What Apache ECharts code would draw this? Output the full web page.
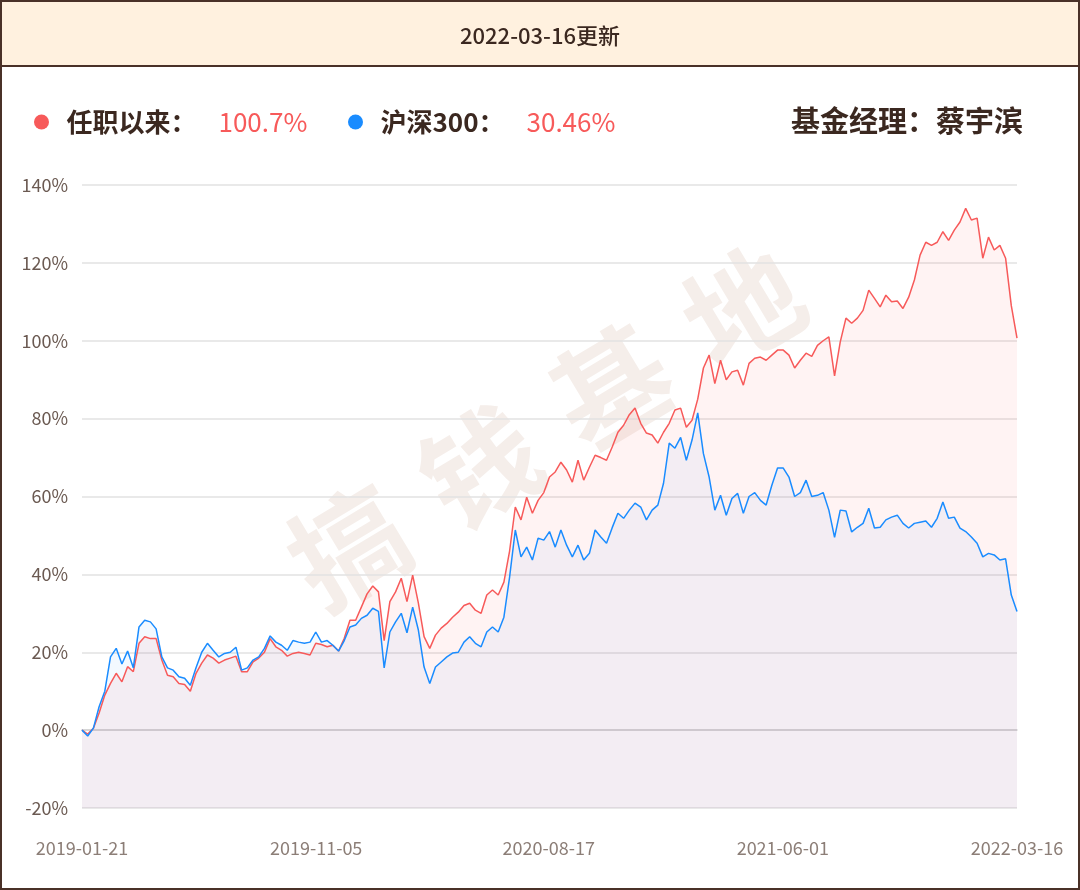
<!DOCTYPE html>
<html>
<head>
<meta charset="utf-8">
<title>任职以来 vs 沪深300</title>
<script src="https://cdn.jsdelivr.net/npm/echarts@6/dist/echarts.min.js"></script>
<style>
  html, body { margin: 0; padding: 0; background: #fff; }
  #main { width: 1080px; height: 890px; }
</style>
</head>
<body>
<div id="main"></div>
<script>
// 数据（从原图读取，按时间等间隔取样）
const startDate = '2019-01-21';
const endDate = '2022-03-16';
const xTickLabels = ['2019-01-21', '2019-11-05', '2020-08-17', '2021-06-01', '2022-03-16'];
const seriesNames = ['任职以来', '沪深300'];
const legendValues = ['100.7%', '30.46%'];
const updateText = '2022-03-16更新';
const managerText = '基金经理：蔡宇滨';
const watermarkChars = ['搞', '钱', '基', '地'];

// 任职以来 收益率 %
const fundReturn = [
  0, -1, 0.5, 4.4, 9, 12, 14.6, 12.4, 16.3, 15,
  22.3, 24, 23.5, 23.5, 18, 14.1, 13.7, 12, 11.7, 10,
  14.6, 17.2, 19.3, 18.5, 17.2, 18, 18.5, 19, 15, 15,
  17.5, 18.5, 20, 23.5, 21.4, 20.5, 19, 19.7, 20, 19.7,
  19.3, 22.3, 22, 21.4, 21.8, 20.3, 23.6, 28.2, 28.2, 31.6,
  35, 37, 35.5, 23, 33, 35.5, 39, 33, 39.8, 32.6,
  24, 21, 24.4, 26.2, 27.4, 29, 30.3, 32, 32.6, 30.8,
  30, 34.7, 36, 34.7, 38, 46, 57.3, 54, 59.8, 55.7,
  59, 61, 65, 66.3, 68.8, 66.8, 63.7, 69.3, 64.2, 67.5,
  70.6, 70, 69.3, 72.7, 76.5, 78.3, 81, 82.7, 78.8, 76.3,
  75.8, 73.7, 76.5, 78.8, 82.2, 82.7, 77.8, 79.6, 85, 93,
  96.3, 89, 95, 90, 92, 92.4, 88.6, 94.2, 95.5, 95.8,
  95, 96.3, 97.6, 97.6, 96.3, 93, 95, 96.8, 96, 98.8,
  100, 101, 91, 99.7, 105.8, 104.5, 105.8, 107.8, 113, 110.9,
  108.7, 111.7, 110, 110.2, 108.3, 111.2, 115.6, 122, 125.3, 124.5,
  125.3, 128, 125.8, 128.4, 130.5, 134, 131, 131.5, 121.2, 126.6,
  123.3, 124.5, 121.2, 109, 100.7
];

// 沪深300 收益率 %
const indexReturn = [
  0, -1.5, 0.5, 6, 10, 18.8, 21, 17, 20.3, 16,
  26.5, 28.2, 27.8, 26, 18.8, 16, 15.4, 13.7, 13.3, 11.5,
  16, 20, 22.3, 20.5, 18.8, 19.7, 20, 21.3, 15.4, 16,
  18, 18.8, 21, 24.2, 22.6, 21.8, 20.5, 23, 22.6, 22.3,
  22.6, 25.2, 22.6, 23, 21.8, 20.3, 23, 26.5, 27, 28.7,
  29.5, 31.3, 30.5, 16, 25.2, 27.8, 30, 25, 31.6, 25.7,
  16.2, 12, 16.2, 17.5, 18.8, 19.8, 20, 22.6, 24, 22.3,
  21.4, 25.2, 26.5, 25.2, 29, 39.3, 51.4, 44.5, 47, 43.7,
  49.3, 48.8, 51, 47, 51.4, 47.5, 44.5, 47.5, 43.7, 45.4,
  51.4, 49.6, 48, 52, 55.7, 54.4, 56.5, 58.3, 57.3, 54,
  56.5, 57.8, 63.4, 73.7, 72.4, 75.2, 69.3, 74.5, 81.5, 71,
  65, 56.5, 60.3, 55.2, 59.5, 60.8, 55.7, 60, 61, 59,
  57.8, 62.9, 67.3, 67.3, 65, 60, 61, 64.2, 60, 60.3,
  61, 56.5, 49.5, 56.5, 56.3, 50.9, 52.1, 53.1, 57, 51.9,
  52.1, 54, 54.7, 55.2, 53.1, 51.9, 53.1, 53.4, 53.7, 52.1,
  54.4, 58.6, 54.4, 54.7, 51.9, 51, 49.6, 48, 44.5, 45.4,
  45, 43.7, 44, 34.7, 30.46
];

const DAY = 86400000;
function toTime(s) {
  const p = s.split('-');
  return new Date(+p[0], +p[1] - 1, +p[2]).getTime();
}
function pad(n) { return n < 10 ? '0' + n : '' + n; }

// x 轴用“距起始日的天数”
const t0 = toTime(startDate);
const totalDays = Math.round((toTime(endDate) - t0) / DAY);
function dayOffset(s) { return Math.round((toTime(s) - t0) / DAY); }
function dayLabel(d) {
  const dt = new Date(t0 + d * DAY + DAY / 2);
  return dt.getFullYear() + '-' + pad(dt.getMonth() + 1) + '-' + pad(dt.getDate());
}
function toPairs(values) {
  const step = totalDays / (values.length - 1);
  return values.map((v, i) => [i * step, v]);
}

const red = '#f75a5a';
const blue = '#1a8cff';
const brown = '#3b2820';
const cjk = '"Noto Sans CJK SC", "Noto Sans", sans-serif';

const chart = echarts.init(document.getElementById('main'));

function legendItem(idx, left) {
  return {
    data: [seriesNames[idx]],
    left: left,
    top: 104,
    icon: 'circle',
    itemWidth: 30,
    itemHeight: 15,
    selectedMode: false,
    formatter: function (name) {
      return '{n|' + name + '：}{v|' + legendValues[idx] + '}';
    },
    textStyle: {
      rich: {
        n: { fontFamily: cjk, fontSize: 26, fontWeight: 'bold', color: brown, lineHeight: 32, padding: [0, 0, 0, 5] },
        v: { fontFamily: cjk, fontSize: 26, color: red, lineHeight: 32, padding: [0, 0, 0, 22] }
      }
    }
  };
}

// 水印：四个字沿斜线排列
const wmStart = [349, 547];
const wmEnd = [743, 307];
const wmGraphics = watermarkChars.map((c, i) => ({
  type: 'text',
  z: -1,
  x: wmStart[0] + (wmEnd[0] - wmStart[0]) * i / 3,
  y: wmStart[1] + (wmEnd[1] - wmStart[1]) * i / 3,
  rotation: 31 * Math.PI / 180,
  silent: true,
  style: {
    text: c,
    fontFamily: cjk,
    fontSize: 115,
    fontWeight: 'bold',
    fill: '#f5eeea',
    align: 'center',
    verticalAlign: 'middle'
  }
}));

const option = {
  animation: false,
  backgroundColor: '#fff',
  graphic: [
    {
      type: 'rect',
      z: 10,
      shape: { x: 1, y: 1, width: 1078, height: 65 },
      style: { fill: '#fff1df', stroke: '#4a3128', lineWidth: 2 }
    },
    {
      type: 'rect',
      z: 11,
      shape: { x: 1, y: 1, width: 1078, height: 888 },
      style: { fill: 'none', stroke: '#4a3128', lineWidth: 2 }
    },
    {
      type: 'text',
      z: 12,
      x: 540,
      y: 36,
      style: {
        text: updateText,
        fontFamily: cjk,
        fontSize: 22,
        fontWeight: 500,
        fill: brown,
        align: 'center',
        verticalAlign: 'middle'
      }
    },
    {
      type: 'text',
      z: 12,
      x: 1023,
      y: 121,
      style: {
        text: managerText,
        fontFamily: cjk,
        fontSize: 29,
        fontWeight: 'bold',
        fill: brown,
        align: 'right',
        verticalAlign: 'middle'
      }
    }
  ].concat(wmGraphics),
  legend: [legendItem(0, 29), legendItem(1, 343)],
  grid: { left: 82, right: 63, top: 185, bottom: 82 },
  xAxis: {
    type: 'value',
    min: 0,
    max: totalDays,
    axisLine: { show: true, lineStyle: { color: '#cfcfcf', width: 1.5 } },
    axisTick: { show: false },
    splitLine: { show: false },
    axisLabel: {
      customValues: xTickLabels.map(dayOffset),
      margin: 31,
      fontFamily: cjk,
      fontSize: 18,
      color: '#8c7e77',
      formatter: dayLabel
    }
  },
  yAxis: {
    type: 'value',
    min: -20,
    max: 140,
    interval: 20,
    axisLine: { show: false },
    axisTick: { show: false },
    axisLabel: {
      formatter: '{value}%',
      margin: 14,
      fontFamily: cjk,
      fontSize: 18,
      color: '#6b5a52'
    },
    splitLine: { lineStyle: { color: '#e2e2e2', width: 1.5 } }
  },
  series: [
    {
      name: seriesNames[0],
      type: 'line',
      data: toPairs(fundReturn),
      showSymbol: false,
      symbol: 'none',
      color: red,
      lineStyle: { color: red, width: 1.5 },
      areaStyle: { origin: 'start', color: 'rgba(255, 90, 90, 0.1)' }
    },
    {
      name: seriesNames[1],
      type: 'line',
      data: toPairs(indexReturn),
      showSymbol: false,
      symbol: 'none',
      color: blue,
      lineStyle: { color: blue, width: 1.5 },
      areaStyle: { origin: 'start', color: 'rgba(30, 144, 255, 0.08)' }
    }
  ]
};

chart.setOption(option);
</script>
</body>
</html>
